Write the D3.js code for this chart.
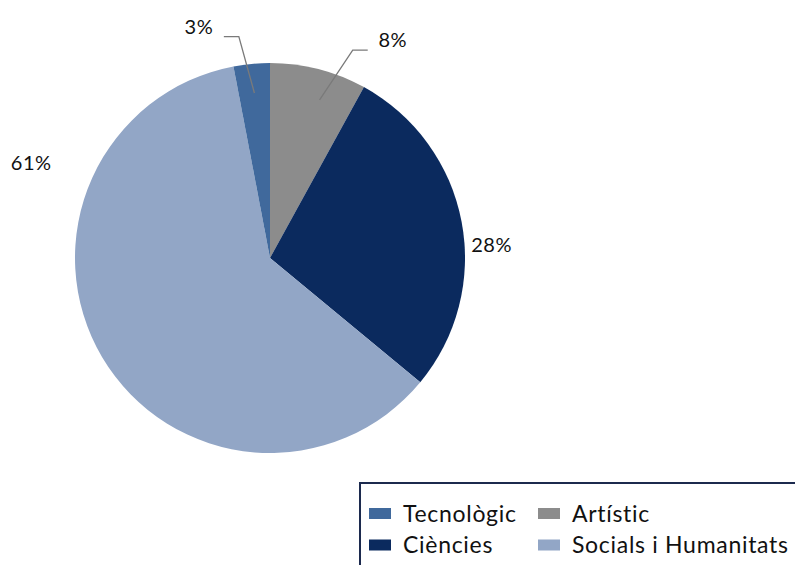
<!DOCTYPE html>
<html><head><meta charset="utf-8">
<script src="https://cdn.jsdelivr.net/npm/d3@7"></script>
<style>body{margin:0;background:#fff}svg{display:block}</style>
</head><body>
<svg id="chart" width="795" height="565"></svg>
<script>
// Data (clockwise from 12 o'clock)
const categories = ["Artístic", "Ciències", "Socials i Humanitats", "Tecnològic"];
const values = [8, 28, 61, 3];
const labels = ["8%", "28%", "61%", "3%"];
const colors = ["#8c8c8c", "#0b2a5e", "#92a6c6", "#40699c"];
const legendOrder = ["Tecnològic", "Artístic", "Ciències", "Socials i Humanitats"];

const svg = d3.select("#chart");
const font = "Lato, 'Open Sans', sans-serif";
const cx = 270, cy = 258, R = 195;

const pie = d3.pie().sort(null).value(d => d)(values);
const arc = d3.arc().innerRadius(0).outerRadius(R);
const g = svg.append("g").attr("transform", `translate(${cx},${cy})`);
g.selectAll("path").data(pie).join("path")
  .attr("d", arc).attr("fill", (d, i) => colors[i]);

// label placement (angle in degrees, radius) - layout
const labelPlace = {
  "8%": {a: 29.4, r: 250, leader: true, side: -1},
  "28%": {a: 86.6, r: 222},
  "61%": {a: 291.7, r: 257},
  "3%": {a: -17.1, r: 242, leader: true, side: 1}
};
const pt = (a, r) => [Math.sin(a * Math.PI / 180) * r, -Math.cos(a * Math.PI / 180) * r];

pie.forEach((d, i) => {
  const lp = labelPlace[labels[i]];
  const [lx, ly] = pt(lp.a, lp.r);
  g.append("text").attr("x", lx).attr("y", ly).attr("dy", "0.35em")
    .attr("text-anchor", "middle").attr("font-family", font).attr("font-size", 20)
    .attr("letter-spacing", 0.5).attr("fill", "#111").text(labels[i]);
  if (lp.leader) {
    const mid = (d.startAngle + d.endAngle) / 2 * 180 / Math.PI;
    const inner = pt(mid + (lp.side < 0 ? 3 : 0), 0.85 * R);
    const startX = lx + lp.side * 25, startY = ly + 10;
    const elbowX = startX + lp.side * 15;
    g.append("polyline")
      .attr("points", [[startX, startY], [elbowX, startY], inner].map(p => p.join(",")).join(" "))
      .attr("fill", "none").attr("stroke", "#7a7a7a").attr("stroke-width", 1.3);
  }
});

// Legend
const lg = svg.append("g");
lg.append("rect").attr("x", 360).attr("y", 483).attr("width", 450).attr("height", 100)
  .attr("fill", "#fff").attr("stroke", "#1c2a4e").attr("stroke-width", 2);
const colX = [369, 538], rowY = [513.5, 545];
legendOrder.forEach((name, k) => {
  const i = categories.indexOf(name);
  const x = colX[k % 2], y = rowY[Math.floor(k / 2)];
  lg.append("rect").attr("x", x).attr("y", y - 5.5).attr("width", 22).attr("height", 11).attr("fill", colors[i]);
  lg.append("text").attr("x", x + 34).attr("y", y).attr("dy", "0.35em")
    .attr("font-family", font).attr("font-size", 23).attr("letter-spacing", 0.7)
    .attr("fill", "#111").text(name);
});
</script>
</body></html>
